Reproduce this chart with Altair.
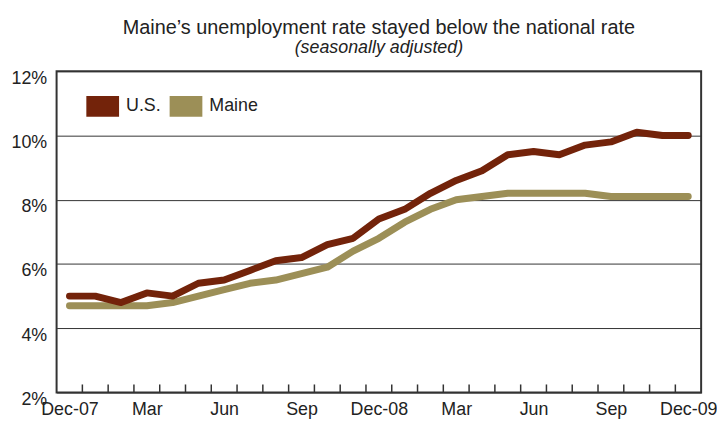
import altair as alt
import pandas as pd

# ---- data ----
months = ["Dec-07", "Jan-08", "Feb-08", "Mar-08", "Apr-08", "May-08", "Jun-08",
          "Jul-08", "Aug-08", "Sep-08", "Oct-08", "Nov-08", "Dec-08", "Jan-09",
          "Feb-09", "Mar-09", "Apr-09", "May-09", "Jun-09", "Jul-09", "Aug-09",
          "Sep-09", "Oct-09", "Nov-09", "Dec-09"]
us = [5.0, 5.0, 4.8, 5.1, 5.0, 5.4, 5.5, 5.8, 6.1, 6.2, 6.6, 6.8, 7.4, 7.7,
      8.2, 8.6, 8.9, 9.4, 9.5, 9.4, 9.7, 9.8, 10.1, 10.0, 10.0]
maine = [4.7, 4.7, 4.7, 4.7, 4.8, 5.0, 5.2, 5.4, 5.5, 5.7, 5.9, 6.4, 6.8, 7.3,
         7.7, 8.0, 8.1, 8.2, 8.2, 8.2, 8.2, 8.1, 8.1, 8.1, 8.1]
series = ["U.S.", "Maine"]
colors = ["#73230a", "#9c8f57"]
tick_labels = ["Dec-07", "Mar", "Jun", "Sep", "Dec-08", "Mar", "Jun", "Sep", "Dec-09"]
y_ticks = [2, 4, 6, 8, 10, 12]

FONT = "Liberation Sans"
TEXT = "#222222"

rows = []
for name, vals in (("Maine", maine), ("U.S.", us)):
    for i, (m, v) in enumerate(zip(months, vals)):
        rows.append({"idx": i, "month": m, "rate": v, "series": name})
df = pd.DataFrame(rows)

n = len(months)
tick_df = pd.DataFrame({"b": [i + 0.5 for i in range(n - 1)]})

label_values = list(range(0, n, 3))
label_js = "[" + ",".join("'" + t + "'" for t in tick_labels) + "]"

x_scale = alt.Scale(domain=[-0.5, n - 0.5], nice=False, zero=False)
y_scale = alt.Scale(domain=[min(y_ticks), max(y_ticks)], nice=False, zero=False)

x_axis = alt.Axis(values=label_values, labelExpr=label_js + "[datum.value/3]",
                  ticks=False, domain=False, grid=False, labelFlush=False,
                  labelFontSize=18, labelFont=FONT, labelColor=TEXT,
                  labelPadding=8, title=None)
y_axis = alt.Axis(values=y_ticks, labelExpr="datum.value + '%'",
                  ticks=False, domain=False, grid=True, gridColor="#333333",
                  gridWidth=1, labelFontSize=18, labelFont=FONT, labelColor=TEXT,
                  labelPadding=10, labelOffset=7, title=None)

swatch = "M-1,-0.636H1V0.636H-1Z"

# line colours (same mapping, listed in reverse so this scale is kept apart
# from the legend's fill scale)
lines = alt.Chart(df).mark_line(strokeWidth=7, strokeCap="round", strokeJoin="round").encode(
    x=alt.X("idx:Q", scale=x_scale, axis=x_axis),
    y=alt.Y("rate:Q", scale=y_scale, axis=y_axis),
    color=alt.Color("series:N", scale=alt.Scale(domain=series[::-1], range=colors[::-1]),
                    legend=None),
)

# legend-only layer (no rows drawn): filled swatches for the series
legend_layer = alt.Chart(df).transform_filter("false").mark_point(filled=True).encode(
    x=alt.X("idx:Q", scale=x_scale, axis=x_axis),
    y=alt.Y("rate:Q", scale=y_scale, axis=y_axis),
    fill=alt.Fill("series:N", scale=alt.Scale(domain=series, range=colors),
                  legend=alt.Legend(orient="none", legendX=30, legendY=19,
                                    direction="horizontal", title=None,
                                    symbolType=swatch, symbolSize=1089,
                                    symbolStrokeWidth=0, symbolOpacity=1,
                                    labelFontSize=18, labelFont=FONT,
                                    labelColor=TEXT, labelOffset=7,
                                    columnPadding=8, padding=0)),
)

ticks = alt.Chart(tick_df).mark_rule(color="#333333", strokeWidth=1.5).encode(
    x=alt.X("b:Q", scale=x_scale, axis=x_axis),
    y=alt.datum(2),
    y2=alt.datum(2.25),
)

chart = alt.layer(ticks, lines, legend_layer).properties(
    width=650,
    height=324,
    autosize=alt.AutoSizeParams(type="none"),
    padding={"left": 49, "top": 62, "right": 16, "bottom": 28},
    title=alt.TitleParams(
        text="Maine’s unemployment rate stayed below the national rate",
        subtitle="(seasonally adjusted)",
        anchor="middle", font=FONT, fontSize=20, fontWeight="normal", color=TEXT,
        subtitleFont=FONT, subtitleFontSize=18, subtitleFontStyle="italic",
        subtitleColor=TEXT, offset=12, subtitlePadding=2,
    ),
).configure_view(stroke="#333333", strokeWidth=2)

chart.save("out.html", embed_options={"renderer": "svg", "actions": False})
